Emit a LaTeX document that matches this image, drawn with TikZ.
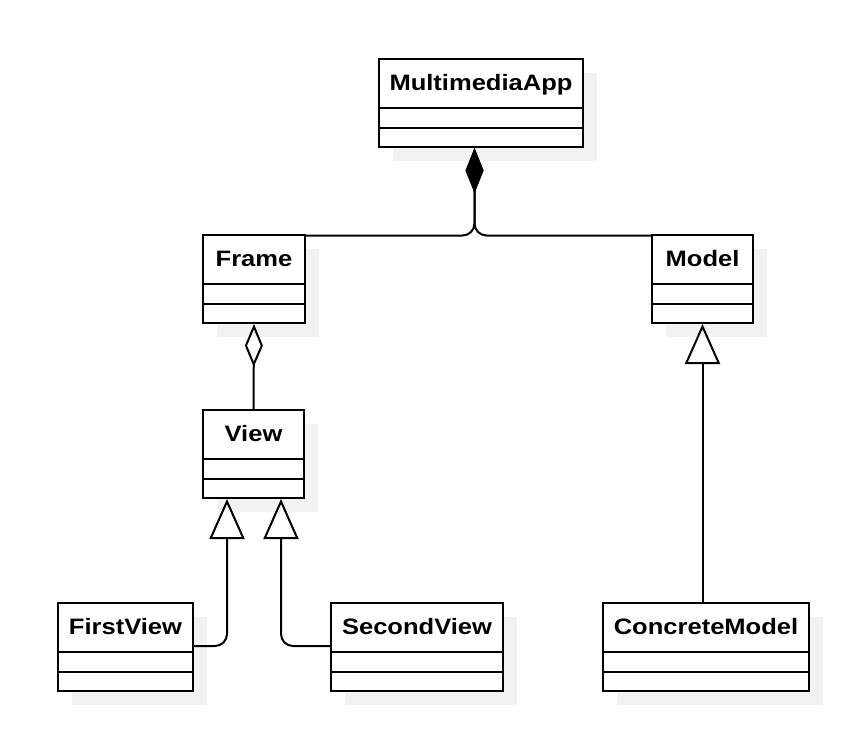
\documentclass[tikz,border=0pt]{standalone}
\usepackage{fontspec}
\setmainfont{Liberation Sans}
\newfontfamily\clsfont[FakeStretch=1.145]{Liberation Sans}
\usetikzlibrary{arrows.meta,shadows,calc}
\definecolor{shad}{RGB}{242,242,242}
\tikzset{
  cls/.style={draw=black, fill=white, line width=2pt, anchor=north west, inner sep=0pt,
    drop shadow={shadow xshift=14pt, shadow yshift=-14pt, fill=shad, opacity=1}},
  ttl/.style={font=\clsfont\fontsize{22.3}{26}\selectfont\bfseries, text height=16pt, text depth=0pt, inner sep=0pt},
  conn/.style={line width=2pt, draw=black},
  compo/.style={conn, {Diamond[length=45pt,width=18pt,fill=black]}-, rounded corners=12pt},
  aggr/.style={conn, {Diamond[open,length=43pt,width=18pt]}-},
  inher/.style={conn, -{Triangle[open,length=40pt,width=35pt]}, rounded corners=12pt},
}
\newcommand\umlbox[5]{%
  \node[cls, minimum width=#4pt, minimum height=88pt] (#1) at (#2,#3) {};
  \node[ttl] (#1-t) at ($(#1.north)+(0,24.7)$) {#5};
  \draw[conn] ($(#1.north west)+(0,50)$) -- ($(#1.north east)+(0,50)$);
  \draw[conn] ($(#1.north west)+(0,70)$) -- ($(#1.north east)+(0,70)$);
}
\begin{document}
\begin{tikzpicture}[x=1pt,y=-1pt]
\useasboundingbox (0,0) rectangle (848,732);
\umlbox{app}{378}{58}{204}{MultimediaApp}
\umlbox{frame}{202}{234}{102}{Frame}
\umlbox{model}{651}{234}{101}{Model}
\umlbox{view}{202}{409}{101}{View}
\umlbox{fv}{57}{602}{135}{FirstView}
\umlbox{sv}{330}{602}{172}{SecondView}
\umlbox{cm}{602}{602}{206}{ConcreteModel}
\coordinate (as) at ($(app.south)+(-6.5,0)$);
\coordinate (fj) at ($(frame.north east)+(0,1.5)$);
\coordinate (mj) at ($(model.north west)+(0,1.5)$);
\draw[compo] (as) -- (as |- fj) -- (fj);
\draw[compo] (as) -- (as |- mj) -- (mj);
\draw[aggr] (frame.south) -- (view.north);
\coordinate (t1) at ($(view.south)+(-26.5,0)$);
\coordinate (t2) at ($(view.south)+(27.5,0)$);
\coordinate (fvj) at ($(fv.north east)+(0,44)$);
\coordinate (svj) at ($(sv.north west)+(0,44)$);
\draw[inher] (fvj) -| (t1);
\draw[inher] (svj) -| (t2);
\draw[inher] (model.south |- cm.north) -- (model.south);
\end{tikzpicture}
\end{document}
